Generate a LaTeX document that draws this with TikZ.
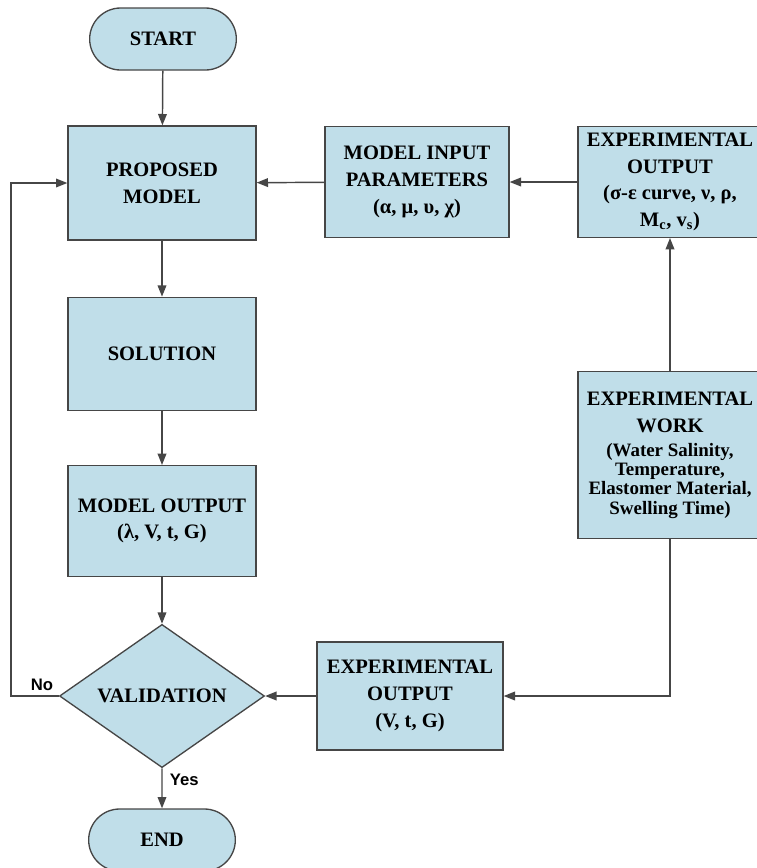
\documentclass[tikz,border=0pt]{standalone}
\usepackage{fontspec}
\setmainfont{Liberation Serif}
\newfontfamily\labelfont{Liberation Sans}
\usetikzlibrary{arrows.meta}
\usetikzlibrary{shapes.geometric,shapes.misc}
\definecolor{boxblue}{RGB}{192,222,233}
\definecolor{edgegray}{RGB}{70,70,70}
\newcommand{\factor}[1]{{\fontsize{14.2}{15}\selectfont #1}}

\begin{document}
\begin{tikzpicture}[x=0.75pt, y=-0.75pt,
    box/.style={draw=edgegray, fill=boxblue, line width=1pt, align=center,
      font=\fontsize{15.4}{20}\selectfont\bfseries, inner sep=2pt},
    term/.style={box, rounded rectangle, minimum width=114pt, minimum height=46.5pt},
    decision/.style={box, diamond, inner sep=0pt, minimum width=153.75pt, minimum height=91.5pt},
    flow/.style={draw=edgegray, line width=1.1pt, -{Triangle[length=8.5pt,width=6.5pt]}},
    answer/.style={font=\labelfont\fontsize{12.5}{15}\selectfont\bfseries}]
          \useasboundingbox (0,0) rectangle (757,868);

          % main column
          \node[term] (start) at (163,39) {START};
          \node[box, minimum width=141pt, minimum height=85.5pt] (model) at (162,183) {PROPOSED\\MODEL};
          \node[box, minimum width=141pt, minimum height=85pt] (solution) at (162,354) {SOLUTION};
          \node[box, minimum width=141pt, minimum height=83pt] (modelout) at (162,521) {MODEL OUTPUT\\(λ, V, t, G)};
          \node[decision] (valid) at (162,696) {VALIDATION};
          \node[term] (end) at (162,840) {END};

          % experimental side
          \node[box, minimum width=138pt, minimum height=83pt] (params) at (417,182) {MODEL INPUT\\PARAMETERS\\(α, μ, υ, χ)};
          \node[box, minimum width=138pt, minimum height=83pt] (expout) at (670,182) {EXPERIMENTAL\\OUTPUT\\(σ-ε curve, ν, ρ,\\M\textsubscript{c}, v\textsubscript{s})};
          \node[box, minimum width=138pt, minimum height=125pt] (work) at (670,455) {EXPERIMENTAL\\WORK\\[-2pt]\factor{(Water Salinity,}\\[-5.5pt]\factor{Temperature,}\\[-5.5pt]\factor{Elastomer Material,}\\[-5.5pt]\factor{Swelling Time)}};
          \node[box, minimum width=139.5pt, minimum height=81pt] (valout) at (410,696) {EXPERIMENTAL\\OUTPUT\\(V, t, G)};

          \draw[flow] (start) -- (model);
          \draw[flow] (model) -- (solution);
          \draw[flow] (solution) -- (modelout);
          \draw[flow] (modelout) -- (valid);
          \draw[flow] (valid) -- node[answer, right=2pt, pos=0.28] {Yes} (end);
          \draw[flow] (valid.west) -- node[answer, above, pos=0.35] {No} ++(-48,0) |- (model.west);

          \draw[flow] (params) -- (model);
          \draw[flow] (expout) -- (params);
          \draw[flow] (work) -- (expout);
          \draw[flow] (work.south) |- (valout.east);
          \draw[flow] (valout) -- (valid.east);
        \end{tikzpicture}
\end{document}
